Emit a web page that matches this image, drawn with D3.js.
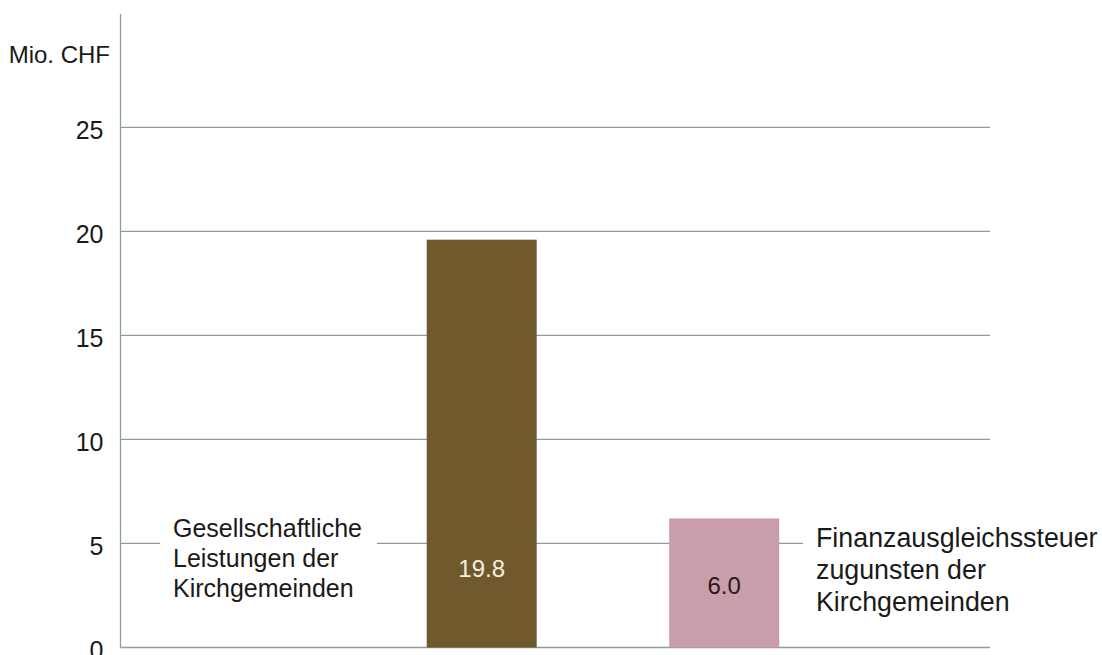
<!DOCTYPE html>
<html>
<head>
<meta charset="utf-8">
<script src="https://cdn.jsdelivr.net/npm/d3@7"></script>
<style>
  body { margin: 0; background: #fff; }
  text { font-family: "Liberation Sans", Arial, sans-serif; fill: #1a1a1a; }
</style>
</head>
<body>
<div id="container"></div>
<script>
/* DATA */
const categories = ["Gesellschaftliche Leistungen der Kirchgemeinden", "Finanzausgleichssteuer zugunsten der Kirchgemeinden"];
const barValues = [19.6, 6.2];          // bar heights as drawn
const valueLabels = ["19.8", "6.0"];    // printed labels
const yTicks = [0, 5, 10, 15, 20, 25];
const label1Lines = ["Gesellschaftliche", "Leistungen der", "Kirchgemeinden"];
const label2Lines = ["Finanzausgleichssteuer", "zugunsten der", "Kirchgemeinden"];
const unitLabel = "Mio. CHF";

/* CONSTANTS */
const width = 1102, height = 655;
const gridColor = "#8a9e9e";
const barColors = ["#70592d", "#c99daa"];
const labelColors = ["#f4efdf", "#2a1818"];

const svg = d3.select("#container")
  .append("svg")
  .attr("width", width)
  .attr("height", height);

/* SCALES */
const yScale = d3.scaleLinear()
  .domain([0, 25])
  .range([647.5, 127.3]);

const xScale = d3.scaleBand()
  .domain(categories)
  .range([426.7, 779.2])
  .paddingInner(0.5464)
  .paddingOuter(0);

const plotLeft = 120.5, plotRight = 990;

// gridlines
svg.append("g")
  .selectAll("line")
  .data(yTicks)
  .join("line")
  .attr("x1", plotLeft)
  .attr("x2", plotRight)
  .attr("y1", d => yScale(d))
  .attr("y2", d => yScale(d))
  .attr("stroke", gridColor)
  .attr("stroke-width", 1.3);

// y axis line
svg.append("line")
  .attr("x1", plotLeft).attr("x2", plotLeft)
  .attr("y1", 14).attr("y2", yScale(0))
  .attr("stroke", gridColor)
  .attr("stroke-width", 1.3);

// tick labels
const yAxis = d3.axisLeft(yScale)
  .tickValues(yTicks)
  .tickSize(0)
  .tickPadding(17)
  .tickFormat(d3.format("d"));
const gy = svg.append("g")
  .attr("transform", `translate(${plotLeft},0)`)
  .call(yAxis);
gy.select(".domain").remove();
gy.selectAll("text")
  .attr("font-family", "Liberation Sans, Arial, sans-serif")
  .attr("font-size", 25)
  .attr("fill", "#1a1a1a")
  .attr("dy", "0.45em");

svg.append("text")
  .attr("x", 110)
  .attr("y", 63)
  .attr("text-anchor", "end")
  .attr("font-size", 24)
  .text(unitLabel);

// label boxes (hide gridline behind text)
svg.append("rect")
  .attr("x", 160).attr("y", 512).attr("width", 217).attr("height", 95)
  .attr("fill", "#fff");
svg.append("rect")
  .attr("x", 803).attr("y", 518).attr("width", 299).attr("height", 105)
  .attr("fill", "#fff");

// bars
svg.selectAll(".bar")
  .data(categories)
  .join("rect")
  .attr("class", "bar")
  .attr("x", d => xScale(d))
  .attr("width", xScale.bandwidth())
  .attr("y", (d, i) => yScale(barValues[i]))
  .attr("height", (d, i) => yScale(0) - yScale(barValues[i]))
  .attr("fill", (d, i) => barColors[i]);

// value labels
const labelY = [568, 585];
svg.selectAll(".val")
  .data(categories)
  .join("text")
  .attr("class", "val")
  .attr("x", d => xScale(d) + xScale.bandwidth() / 2)
  .attr("y", (d, i) => labelY[i])
  .attr("dy", "0.36em")
  .attr("text-anchor", "middle")
  .attr("font-size", 24)
  .style("fill", (d, i) => labelColors[i])
  .text((d, i) => valueLabels[i]);

// category labels
svg.append("text")
  .attr("font-size", 25)
  .selectAll("tspan")
  .data(label1Lines)
  .join("tspan")
  .attr("x", 173)
  .attr("y", (d, i) => 537 + i * 30)
  .text(d => d);

svg.append("text")
  .attr("font-size", 26.8)
  .selectAll("tspan")
  .data(label2Lines)
  .join("tspan")
  .attr("x", 816)
  .attr("y", (d, i) => 547 + i * 32)
  .text(d => d);
</script>
</body>
</html>
